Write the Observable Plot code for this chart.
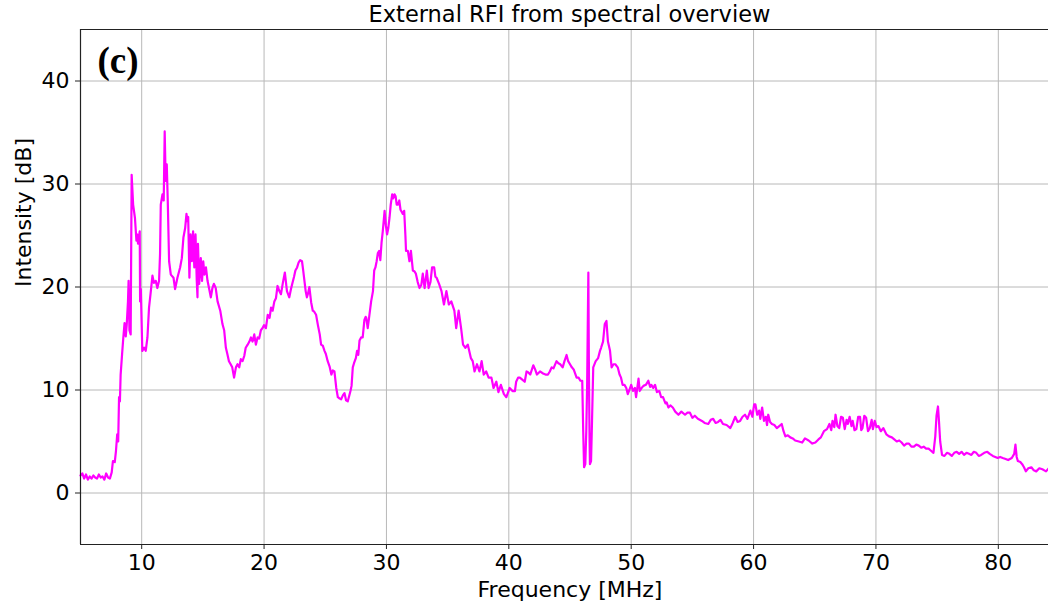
<!DOCTYPE html>
<html>
<head>
<meta charset="utf-8">
<script src="https://cdn.jsdelivr.net/npm/d3@7"></script>
<script src="https://cdn.jsdelivr.net/npm/@observablehq/plot@0.6"></script>
<style>
  html, body { margin: 0; padding: 0; background: #fff; overflow: hidden; width: 1048px; height: 602px; }
  #title { width: 1059px; height: 28px; box-sizing: border-box; padding-left: 80px; text-align: center;
           font: 22.5px "DejaVu Sans", sans-serif; line-height: 28px; color: #000; white-space: nowrap; }
  #chart { width: 1059px; }
  #chart svg { display: block; max-width: none !important; width: 1059px !important; height: 574px !important; }
</style>
</head>
<body>
<div id="title">External RFI from spectral overview</div>
<div id="chart"></div>
<script>
const titleText = "External RFI from spectral overview";
const xLabel = "Frequency [MHz]";
const yLabel = "Intensity [dB]";
const panelLabel = "(c)";
const xTicks = [10, 20, 30, 40, 50, 60, 70, 80];
const yTicks = [0, 10, 20, 30, 40];

const freq = [
5.0,5.15,5.3,5.45,5.6,5.75,5.9,6.05,6.2,6.35,6.5,6.65,6.8,6.95,7.1,7.25,7.4,7.55,7.65,7.8,
7.9,8.0,8.08,8.15,8.22,8.28,8.4,8.5,8.6,8.7,8.78,8.88,8.93,9.0,9.1,9.18,9.3,9.45,9.57,9.64,
9.7,9.84,9.87,9.93,10.05,10.2,10.33,10.47,10.6,10.73,10.88,11.0,11.15,11.28,11.42,11.5,11.56,11.7,11.8,11.88,
11.96,12.05,12.13,12.24,12.38,12.6,12.73,12.92,13.14,13.28,13.41,13.55,13.66,13.73,13.8,13.9,14.0,14.1,14.2,14.3,
14.4,14.5,14.56,14.6,14.7,14.83,14.93,15.03,15.13,15.25,15.38,15.5,15.65,15.78,15.9,16.05,16.2,16.42,16.6,16.74,
16.88,17.0,17.13,17.27,17.4,17.55,17.7,17.83,17.97,18.1,18.24,18.38,18.5,18.66,18.8,18.93,19.06,19.2,19.33,19.47,
19.6,19.74,19.87,20.0,20.15,20.3,20.45,20.57,20.7,20.84,20.97,21.1,21.25,21.38,21.55,21.7,21.87,22.06,22.2,22.3,
22.45,22.56,22.7,22.83,22.95,23.1,23.2,23.3,23.4,23.5,23.6,23.7,23.85,23.98,24.1,24.25,24.4,24.55,24.66,24.8,
24.94,25.05,25.2,25.35,25.5,25.62,25.75,25.9,26.03,26.15,26.3,26.45,26.57,26.7,26.84,26.95,27.06,27.15,27.25,27.35,
27.5,27.6,27.7,27.8,27.93,28.06,28.2,28.3,28.35,28.47,28.6,28.75,28.9,29.0,29.1,29.2,29.3,29.4,29.5,29.6,
29.7,29.85,29.95,30.05,30.15,30.25,30.35,30.47,30.55,30.66,30.75,30.84,30.94,31.05,31.15,31.34,31.45,31.55,31.6,31.75,
31.88,32.0,32.16,32.3,32.4,32.55,32.7,32.85,32.97,33.12,33.3,33.45,33.6,33.73,33.9,34.0,34.1,34.3,34.5,34.7,
34.9,35.1,35.3,35.55,35.7,35.9,36.1,36.26,36.45,36.65,36.9,37.05,37.2,37.4,37.6,37.78,37.95,38.15,38.35,38.58,
38.75,38.98,39.15,39.35,39.6,39.8,40.07,40.3,40.5,40.6,40.76,40.9,41.1,41.3,41.45,41.6,41.75,42.0,42.15,42.3,
42.55,42.8,43.0,43.2,43.35,43.5,43.65,43.9,44.05,44.2,44.4,44.55,44.72,44.85,45.0,45.15,45.3,45.54,45.7,45.85,
46.0,46.08,46.15,46.25,46.33,46.4,46.45,46.5,46.55,46.6,46.63,46.72,46.8,46.9,47.1,47.3,47.45,47.54,47.7,47.84,
47.98,48.05,48.1,48.27,48.4,48.55,48.7,48.9,49.05,49.17,49.3,49.45,49.6,49.72,49.85,50.0,50.15,50.3,50.4,50.5,
50.6,50.7,50.85,51.0,51.2,51.4,51.55,51.65,51.8,51.95,52.1,52.3,52.45,52.6,52.8,52.9,53.04,53.2,53.4,53.6,
53.86,54.1,54.4,54.6,54.8,55.0,55.2,55.45,55.78,56.0,56.3,56.5,56.7,56.9,57.1,57.3,57.5,57.8,58.1,58.3,
58.5,58.7,58.9,59.1,59.3,59.5,59.74,59.9,60.05,60.15,60.3,60.45,60.55,60.7,60.85,61.0,61.1,61.2,61.35,61.5,
61.7,61.9,62.1,62.3,62.45,62.6,62.8,63.0,63.2,63.4,63.7,63.97,64.2,64.5,64.8,65.05,65.3,65.5,65.75,66.0,
66.2,66.35,66.45,66.6,66.7,66.85,67.0,67.15,67.3,67.45,67.6,67.7,67.85,68.0,68.1,68.25,68.4,68.55,68.7,68.8,
68.9,69.05,69.2,69.35,69.5,69.65,69.75,69.9,70.05,70.2,70.4,70.6,70.85,71.07,71.3,71.5,71.7,71.9,72.1,72.3,
72.5,72.7,72.9,73.1,73.3,73.5,73.7,73.9,74.1,74.3,74.5,74.7,74.85,74.95,75.07,75.15,75.25,75.4,75.6,75.8,
76.0,76.2,76.4,76.6,76.8,77.0,77.2,77.4,77.6,77.8,78.0,78.2,78.4,78.6,78.85,79.1,79.3,79.55,79.75,79.95,
80.15,80.36,80.6,80.8,81.1,81.3,81.4,81.5,81.6,81.8,81.95,82.1,82.25,82.45,82.7,82.9,83.1,83.35,83.6,83.9,
84.2,84.5,85.0
];
const intensity = [
1.7,1.9,1.4,1.8,1.3,1.6,1.4,1.7,1.5,1.4,1.8,1.5,1.6,1.3,1.9,1.5,1.4,2.0,3.1,3.0,
4.1,5.7,5.0,9.3,8.9,11.5,13.5,15.1,16.5,15.2,16.4,18.6,20.6,15.8,15.4,30.9,28.0,26.7,24.5,25.1,
24.2,25.4,18.6,19.8,13.8,14.1,13.8,15.1,18.0,19.4,21.1,20.4,20.6,19.9,20.6,23.2,28.0,29.0,28.4,35.1,
30.3,31.9,28.4,22.5,21.2,20.9,19.8,20.9,21.9,22.8,24.8,25.7,27.1,26.4,26.8,20.9,25.1,22.5,25.4,21.9,
25.1,20.6,19.0,24.2,20.3,22.8,20.6,22.5,21.2,21.9,20.6,19.9,19.0,19.9,20.3,19.9,18.6,17.7,16.4,15.8,
14.1,13.5,12.8,12.5,12.2,11.2,12.2,12.5,12.2,13.0,12.8,13.3,14.1,14.4,14.7,15.1,14.7,15.4,14.4,15.1,
15.0,15.8,16.0,16.3,16.0,17.3,17.0,18.0,17.7,18.6,18.9,20.1,19.6,19.3,20.5,21.4,19.6,19.0,19.8,20.3,
21.0,21.6,21.9,22.4,22.6,22.5,21.6,20.6,19.6,19.0,19.4,20.0,18.5,17.7,17.6,17.3,16.3,15.4,14.4,14.3,
13.8,13.5,12.8,12.3,11.5,11.9,11.8,10.2,9.3,9.2,9.1,9.5,9.7,9.0,8.9,9.4,9.9,10.4,12.2,12.6,
13.1,13.8,13.4,14.8,15.1,15.1,16.8,17.1,17.0,16.0,17.2,18.6,19.6,21.6,21.9,22.5,23.3,23.5,22.6,24.3,
25.4,27.4,26.0,25.1,25.7,26.7,28.0,29.0,28.6,29.0,28.8,28.0,28.0,28.4,27.5,27.1,27.4,25.0,23.5,23.5,
22.5,23.5,21.6,21.5,21.3,20.5,19.9,20.2,21.3,19.9,21.6,19.9,20.5,21.9,21.9,21.0,20.9,20.3,19.6,18.3,
19.6,18.3,18.6,17.7,16.0,17.7,16.0,14.4,14.1,14.4,13.1,12.8,11.8,12.5,11.8,12.8,11.5,11.8,11.2,11.2,
10.2,10.8,9.8,10.5,9.6,9.3,10.2,9.9,9.9,10.8,11.2,11.2,11.0,10.8,11.8,11.7,11.5,12.4,12.0,11.5,
11.8,11.6,11.5,11.5,11.8,12.2,12.1,12.8,12.6,12.5,12.2,12.8,13.4,12.8,12.5,12.2,12.0,11.2,11.2,10.9,
10.9,6.0,2.5,2.8,6.0,10.5,16.0,21.4,11.2,5.0,2.8,3.1,7.0,12.2,12.8,13.1,13.8,14.1,14.7,16.4,
16.7,15.5,14.7,13.8,12.2,12.5,12.5,12.2,11.5,11.2,10.5,10.5,10.2,9.6,10.0,10.5,9.9,10.2,9.3,10.2,
11.1,9.9,10.2,10.4,10.5,10.9,10.3,10.5,10.2,10.5,9.8,9.9,9.3,9.3,8.7,8.8,8.3,8.5,8.3,7.9,
7.6,7.9,7.6,7.8,7.8,7.3,7.5,7.2,7.0,6.8,6.7,7.1,7.2,6.8,6.9,7.1,6.7,6.6,6.3,6.8,
7.4,6.9,7.0,7.4,7.6,7.2,8.0,7.4,8.6,8.6,7.6,8.0,7.2,8.3,7.0,7.4,6.6,7.6,6.9,6.7,
6.6,6.3,6.5,6.7,6.0,5.5,5.6,5.4,5.3,5.1,5.0,4.9,5.3,5.1,4.8,4.9,5.2,5.4,6.0,6.2,
6.7,6.1,7.0,6.4,7.6,6.5,6.3,7.4,7.3,6.2,7.1,6.7,7.4,6.5,7.0,6.1,6.2,7.4,7.4,6.1,
6.3,7.5,7.3,6.0,6.3,7.1,6.2,7.0,6.4,6.5,6.0,6.3,5.7,5.5,5.4,5.2,5.0,5.1,4.9,4.6,
4.8,4.8,4.5,4.5,4.7,4.6,4.4,4.5,4.3,4.3,4.1,3.9,5.5,7.5,8.4,7.0,5.0,3.7,3.6,3.9,
3.8,3.6,3.9,4.0,3.8,4.0,3.7,3.9,3.8,3.7,4.0,3.9,3.6,3.7,3.9,4.0,3.8,3.6,3.5,3.4,
3.5,3.4,3.3,3.2,3.4,3.8,4.7,3.5,3.1,3.0,2.8,2.5,2.1,2.4,2.5,2.2,2.1,2.4,2.3,2.1,
2.5,2.3,2.2
];

const data = freq.map((f, i) => ({f, v: intensity[i]}));
const font = '"DejaVu Sans", sans-serif';
const fs = 22;

const chart = Plot.plot({
  width: 1059,
  height: 574,
  marginLeft: 80,
  marginRight: 0,
  marginTop: 1,
  marginBottom: 58,
  style: {fontFamily: font, fontSize: fs + "px", background: "#fff", color: "#000", overflow: "visible"},
  x: {domain: [5, 85]},
  y: {domain: [-5, 45]},
  marks: [
    Plot.gridX(xTicks, {stroke: "#b8b8b8", strokeOpacity: 1, strokeWidth: 1}),
    Plot.gridY(yTicks, {stroke: "#b8b8b8", strokeOpacity: 1, strokeWidth: 1}),
    Plot.line(data, {x: "f", y: "v", stroke: "#ff00ff", strokeWidth: 2.2, strokeLinejoin: "round"}),
    Plot.ruleX([5], {stroke: "#222", strokeWidth: 1.2}),
    Plot.ruleY([-5, 45], {stroke: "#222", strokeWidth: 1.2}),
    Plot.axisX(xTicks, {tickSize: 5, tickPadding: 5, label: null, fontSize: fs, stroke: "#222"}),
    Plot.axisY(yTicks, {tickSize: 5, tickPadding: 6, label: null, fontSize: fs, stroke: "#222"}),
    Plot.text([xLabel], {frameAnchor: "bottom", dy: 45, text: d => d, fontSize: fs, lineAnchor: "middle", fill: "#000"}),
    Plot.text([yLabel], {frameAnchor: "left", dx: -57, rotate: -90, text: d => d, fontSize: fs, lineAnchor: "middle", fill: "#000"}),
    Plot.text([panelLabel], {frameAnchor: "top-left", dx: 17, dy: 32, text: d => d, textAnchor: "start",
      lineAnchor: "middle", fontSize: 37, fontWeight: "bold", fontFamily: '"Liberation Serif", "DejaVu Serif", serif', fill: "#000"})
  ]
});
document.getElementById("chart").appendChild(chart);
</script>
</body>
</html>
